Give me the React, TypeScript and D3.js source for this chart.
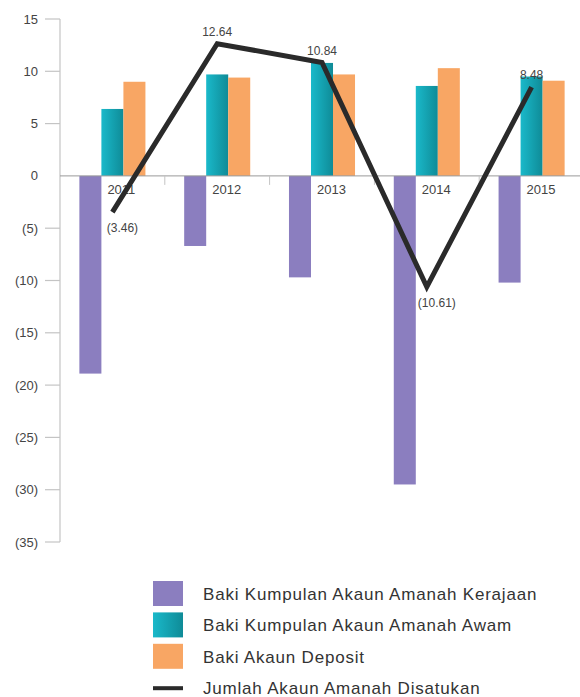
import { useRef, useEffect } from "react";
import * as d3 from "d3";

const years = ["2011", "2012", "2013", "2014", "2015"];
const kerajaan = [-18.9, -6.7, -9.7, -29.5, -10.2];
const awam = [6.4, 9.7, 10.8, 8.6, 9.5];
const deposit = [9.0, 9.4, 9.7, 10.3, 9.1];
const jumlah = [-3.46, 12.64, 10.84, -10.61, 8.48];
const yTicks = [15, 10, 5, 0, -5, -10, -15, -20, -25, -30, -35];
const legendLabels = [
  "Baki Kumpulan Akaun Amanah Kerajaan",
  "Baki Kumpulan Akaun Amanah Awam",
  "Baki Akaun Deposit",
  "Jumlah Akaun Amanah Disatukan",
];

const W = 580,
  H = 697;
const C = {
  purple: "#8b7ebf",
  orange: "#f8a664",
  line: "#2a2a2a",
  text: "#444",
  axis: "#c4c4c4",
};
const FONT = "'Liberation Sans', Arial, sans-serif";

export default function App() {
  const ref = useRef<SVGSVGElement>(null);

  useEffect(() => {
    if (!ref.current) return;
    const svg = d3.select(ref.current);
    svg.selectAll("*").remove();

    const defs = svg.append("defs");
    const grad = defs
      .append("linearGradient")
      .attr("id", "teal")
      .attr("x1", "0")
      .attr("x2", "1")
      .attr("y1", "0")
      .attr("y2", "0");
    grad.append("stop").attr("offset", "0").attr("stop-color", "#1ab9ca");
    grad.append("stop").attr("offset", "1").attr("stop-color", "#0f8b97");

    const y = d3.scaleLinear().domain([-35, 15]).range([542, 19]);
    const x = d3.scaleBand().domain(years).range([60, 584]).padding(0);
    const series = ["k", "a", "d"];
    const xs = d3
      .scaleBand()
      .domain(series)
      .range([0, x.bandwidth()])
      .paddingInner(0)
      .paddingOuter(0.88);

    const g = svg.append("g").attr("font-family", FONT);

    // y axis
    g.append("line")
      .attr("x1", 60)
      .attr("x2", 60)
      .attr("y1", y(15))
      .attr("y2", y(-35))
      .attr("stroke", C.axis)
      .attr("stroke-width", 1.2);
    const tk = g
      .selectAll("g.yt")
      .data(yTicks)
      .join("g")
      .attr("class", "yt")
      .attr("transform", (d) => `translate(0,${y(d)})`);
    tk.filter((d) => d !== 0)
      .append("line")
      .attr("x1", 45)
      .attr("x2", 60)
      .attr("stroke", C.axis)
      .attr("stroke-width", 1.2);
    tk.append("text")
      .attr("x", 38)
      .attr("dy", "0.35em")
      .attr("text-anchor", "end")
      .attr("font-size", 13)
      .attr("fill", C.text)
      .text((d) => (d < 0 ? `(${-d})` : `${d}`));

    // bars
    const bars: { year: string; key: string; v: number; fill: string }[] = [];
    years.forEach((yr, i) => {
      bars.push({ year: yr, key: "k", v: kerajaan[i], fill: C.purple });
      bars.push({ year: yr, key: "a", v: awam[i], fill: "url(#teal)" });
      bars.push({ year: yr, key: "d", v: deposit[i], fill: C.orange });
    });
    g.selectAll("rect.bar")
      .data(bars)
      .join("rect")
      .attr("class", "bar")
      .attr("x", (d) => (x(d.year) as number) + (xs(d.key) as number))
      .attr("width", xs.bandwidth())
      .attr("y", (d) => y(Math.max(0, d.v)))
      .attr("height", (d) => Math.abs(y(d.v) - y(0)))
      .attr("fill", (d) => d.fill);

    // zero line and category ticks
    g.append("line")
      .attr("x1", 60)
      .attr("x2", W)
      .attr("y1", y(0))
      .attr("y2", y(0))
      .attr("stroke", "#9a9a9a")
      .attr("stroke-width", 1);
    g.selectAll("line.ct")
      .data(years.slice(1))
      .join("line")
      .attr("class", "ct")
      .attr("x1", (d) => x(d) as number)
      .attr("x2", (d) => x(d) as number)
      .attr("y1", y(0))
      .attr("y2", y(0) + 9)
      .attr("stroke", C.axis)
      .attr("stroke-width", 1);

    g.selectAll("text.yr")
      .data(years)
      .join("text")
      .attr("class", "yr")
      .attr("x", (d) => (x(d) as number) + (xs("a") as number) + 6)
      .attr("y", y(0) + 18)
      .attr("font-size", 13)
      .attr("fill", C.text)
      .text((d) => d);

    // total line
    const cx = (d: string) => (x(d) as number) + x.bandwidth() / 2;
    const pts = years.map((yr, i) => ({ yr, v: jumlah[i] }));
    const line = d3
      .line<{ yr: string; v: number }>()
      .x((d) => cx(d.yr))
      .y((d) => y(d.v));
    g.append("path")
      .datum(pts)
      .attr("d", line)
      .attr("fill", "none")
      .attr("stroke", C.line)
      .attr("stroke-width", 5)
      .attr("stroke-linejoin", "miter");
    g.selectAll("text.lbl")
      .data(pts)
      .join("text")
      .attr("class", "lbl")
      .attr("x", (d) => cx(d.yr) + (d.v < 0 ? 10 : 0))
      .attr("y", (d) => (d.v < 0 ? y(d.v) + 20 : y(d.v) - 8))
      .attr("text-anchor", "middle")
      .attr("font-size", 12)
      .attr("fill", C.text)
      .text((d) => (d.v < 0 ? `(${(-d.v).toFixed(2)})` : d.v.toFixed(2)));

    // legend
    const fills = [C.purple, "url(#teal)", C.orange];
    const lg = g
      .selectAll("g.lg")
      .data(legendLabels)
      .join("g")
      .attr("class", "lg")
      .attr("transform", (_, i) => `translate(153,${594 + i * 31.4})`);
    lg.filter((_, i) => i < 3)
      .append("rect")
      .attr("x", 0)
      .attr("y", -13)
      .attr("width", 30)
      .attr("height", 25)
      .attr("fill", (_, i) => fills[i]);
    lg.filter((_, i) => i === 3)
      .append("rect")
      .attr("x", 0)
      .attr("y", -2)
      .attr("width", 30)
      .attr("height", 4)
      .attr("fill", C.line);
    lg.append("text")
      .attr("x", 50)
      .attr("dy", "0.35em")
      .attr("font-size", 17)
      .attr("letter-spacing", 0.8)
      .attr("fill", "#333")
      .text((d) => d);
  }, []);

  return (
    <svg
      ref={ref}
      width={W}
      height={H}
      style={{ position: "absolute", left: 0, top: 0, display: "block", background: "#fff" }}
    />
  );
}
